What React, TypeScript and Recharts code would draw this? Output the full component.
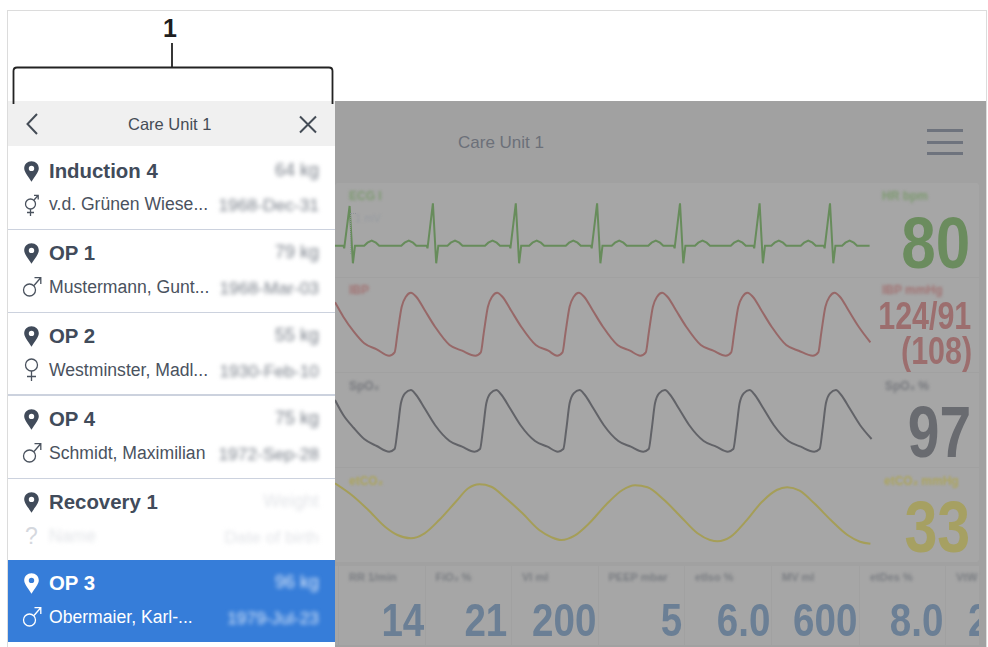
import { LineChart, Line, XAxis, YAxis } from 'recharts';

// waveform samples (time = sweep position, value = relative amplitude)
const ecgTime = [
  0, 8.4, 9.2, 14.6, 17.9, 20, 29.2, 32.5, 36.7, 40.9, 44.2,
  66.3, 69.6, 73.8, 78, 81.3, 91.7, 92.5, 97.9, 101.2, 103.3, 112.5, 115.8, 120, 124.2, 127.5,
  150, 153.3, 157.5, 161.7, 165, 174.6, 175.4, 180.8, 184.1, 186.2, 194.2, 197.5, 201.7, 205.9, 209.2,
  230.8, 234.1, 238.3, 242.5, 245.8, 255.9, 256.7, 262.1, 265.4, 267.5, 276.7, 280, 284.2, 288.4, 291.7,
  313.3, 316.6, 320.8, 325, 328.3, 338.8, 339.6, 345, 348.3, 350.4, 360, 363.3, 367.5, 371.7, 375,
  395.8, 399.1, 403.3, 407.5, 410.8, 418.4, 419.2, 424.6, 427.9, 430, 436.3, 439.6, 443.8, 448, 451.3,
  465.8, 469.1, 473.3, 477.5, 480.8, 488.8, 489.6, 495, 498.3, 500.4, 507.1, 510.4, 514.6, 518.8, 522.1, 534.6,
];
const ecgValues = [
  29.3, 29.3, 26.7, 69, 11.7, 29.3, 29.3, 32.3, 34.3, 32.3, 29.3,
  29.3, 32.3, 34.3, 32.3, 29.3, 29.3, 26.7, 71.7, 11.7, 29.3, 29.3, 32.3, 34.3, 32.3, 29.3,
  29.3, 32.3, 34.3, 32.3, 29.3, 29.3, 26.7, 71.7, 11.7, 29.3, 29.3, 32.3, 34.3, 32.3, 29.3,
  29.3, 32.3, 34.3, 32.3, 29.3, 29.3, 26.7, 71.7, 11.7, 29.3, 29.3, 32.3, 34.3, 32.3, 29.3,
  29.3, 32.3, 34.3, 32.3, 29.3, 29.3, 26.7, 71.7, 11.7, 29.3, 29.3, 32.3, 34.3, 32.3, 29.3,
  29.3, 32.3, 34.3, 32.3, 29.3, 29.3, 26.7, 71.7, 11.7, 29.3, 29.3, 32.3, 34.3, 32.3, 29.3,
  29.3, 32.3, 34.3, 32.3, 29.3, 29.3, 26.7, 71.7, 11.7, 29.3, 29.3, 32.3, 34.3, 32.3, 29.3, 29.3,
];

const ibpTime = [
  0, 8.3, 18.8, 29.2, 41.7, 54.2,
  59.6, 62.5, 66.7, 70.9, 75.9, 81.2, 89.6, 100, 114.6, 127.1, 140.4,
  145.8, 148.7, 152.9, 157.1, 162.1, 167.4, 175.8, 186.2, 200.8, 213.3, 222.1,
  227.5, 230.4, 234.6, 238.8, 243.8, 249.1, 257.5, 267.9, 282.5, 295, 305.4,
  310.8, 313.7, 317.9, 322.1, 327.1, 332.4, 340.8, 351.2, 365.8, 378.3, 390.8,
  396.2, 399.1, 403.3, 407.5, 412.5, 417.8, 426.2, 436.6, 451.2, 463.7, 477.9,
  483.3, 486.2, 490.4, 494.6, 499.6, 504.9, 513.3, 523.7, 535.4,
];
const ibpValues = [
  67.7, 53.3, 38.3, 26.7, 20.7, 14.3,
  17.7, 36.7, 63.3, 73.3, 77.3, 73.3, 60, 43.3, 25, 19.3, 14.3,
  17.7, 36.7, 63.3, 73.3, 77.3, 73.3, 60, 43.3, 25, 19.3, 14.3,
  17.7, 36.7, 63.3, 73.3, 77.3, 73.3, 60, 43.3, 25, 19.3, 14.3,
  17.7, 36.7, 63.3, 73.3, 77.3, 73.3, 60, 43.3, 25, 19.3, 14.3,
  17.7, 36.7, 63.3, 73.3, 77.3, 73.3, 60, 43.3, 25, 19.3, 14.3,
  17.7, 36.7, 63.3, 73.3, 77.3, 73.3, 60, 43.3, 27.7,
];

const spo2Time = [
  0, 8.3, 18.8, 29.2, 41.7, 54.2,
  59.6, 62.5, 65.9, 70, 75.9, 81.2, 89.6, 100, 114.6, 127.1, 139.6,
  145, 147.9, 151.3, 155.4, 161.3, 166.6, 175, 185.4, 200, 212.5, 222.9,
  228.3, 231.2, 234.6, 238.7, 244.6, 249.9, 258.3, 268.7, 283.3, 295.8, 308.3,
  313.7, 316.6, 320, 324.1, 330, 335.3, 343.7, 354.1, 368.7, 381.2, 392.9,
  398.3, 401.2, 404.6, 408.7, 414.6, 419.9, 428.3, 438.7, 453.3, 465.8, 479.2,
  484.6, 487.5, 490.9, 495, 500.9, 506.2, 514.6, 525, 536.6,
];
const spo2Values = [
  70, 55, 42, 31, 24, 18.3,
  21, 40, 66.7, 76.7, 80, 75, 61.7, 45, 29, 23.3, 18.3,
  21, 40, 66.7, 76.7, 80, 75, 61.7, 45, 29, 23.3, 18.3,
  21, 40, 66.7, 76.7, 80, 75, 61.7, 45, 29, 23.3, 18.3,
  21, 40, 66.7, 76.7, 80, 75, 61.7, 45, 29, 23.3, 18.3,
  21, 40, 66.7, 76.7, 80, 75, 61.7, 45, 29, 23.3, 18.3,
  21, 40, 66.7, 76.7, 80, 75, 61.7, 45, 31,
];

const co2Time = [
  0, 16.7, 33.3, 50, 62.5, 75.8, 89.6, 104.2, 120.8, 133.3, 144.6, 156.3, 170.8, 187.5, 204.2, 216.7, 226.3,
  239.6, 254.2, 270.8, 287.5, 300, 312.5, 329.2, 345.8, 362.5, 375, 382.5, 395.8, 410.4, 427.1, 441.7, 452.1,
  464.6, 479.2, 495.8, 512.5, 525, 535.4,
];
const co2Values = [
  66.7, 55, 40, 23.3, 15, 11.7, 16.7, 30, 48.3, 61.7, 65.7, 63.3, 51.7, 36.7, 20, 12.7, 10,
  14.3, 26.7, 45, 60, 64.7, 62.7, 50, 33.3, 16.7, 10, 8.7, 13.3, 28.3, 48.3, 60, 62.7,
  59.3, 46.7, 30, 15, 8.3, 6.3,
];

// patient list
const locations = ['Induction 4', 'OP 1', 'OP 2', 'OP 4', 'Recovery 1', 'OP 3'];
const names = ['v.d. Grünen Wiese...', 'Mustermann, Gunt...', 'Westminster, Madl...', 'Schmidt, Maximilian', 'Name', 'Obermaier, Karl-...'];
const weights = ['64 kg', '79 kg', '55 kg', '75 kg', 'Weight', '96 kg'];
const births = ['1968-Dec-31', '1968-Mar-03', '1930-Feb-10', '1972-Sep-28', 'Date of birth', '1979-Jul-23'];
const genders = ['x', 'm', 'f', 'm', '?', 'm'];
const rowTitleY = [171, 253, 336, 419, 502, 583];
const rowSubY = [205, 288, 371, 454, 537, 618];

// bottom parameter tiles
const tileLabels = ['RR 1/min', 'FiO₂ %', 'VI ml', 'PEEP mbar', 'etIso %', 'MV ml', 'etDes %', 'VtW'];
const tileValues = ['14', '21', '200', '5', '6.0', '600', '8.0', '2'];
const tileLeft = [338, 424.6, 511, 597.5, 684, 771, 859, 945];
const tileValueRight = [424, 507, 596, 682, 770, 857, 943];

const SANS = '"Liberation Sans", Arial, sans-serif';

function T({ x, y, right, size, color, bold, blur, squeeze, children }: any) {
  const style: any = {
    position: 'absolute',
    top: y - size * 0.6,
    height: size * 1.2,
    lineHeight: size * 1.2 + 'px',
    fontSize: size,
    color,
    fontFamily: SANS,
    fontWeight: bold ? 700 : 400,
    whiteSpace: 'nowrap',
  };
  if (right !== undefined) style.right = 988 - right;
  else style.left = x;
  if (blur) style.filter = `blur(${blur}px)`;
  if (squeeze) {
    // no narrow face is installed, so the numerics get squeezed
    style.transform = `scaleX(${squeeze})`;
    style.transformOrigin = 'right center';
  }
  return <div style={style}>{children}</div>;
}

function Wave({ top, height, time, values, color, curve, sw }: any) {
  const rows = time.map((t: number, i: number) => ({ t, v: values[i] }));
  return (
    <div style={{ position: 'absolute', left: 335, top }}>
      <LineChart width={540} height={height} data={rows} margin={{ top: 0, right: 0, bottom: 0, left: 0 }}>
        <XAxis dataKey="t" type="number" domain={[0, 540]} hide />
        <YAxis type="number" domain={[0, height]} hide />
        <Line dataKey="v" type={curve} stroke={color} strokeWidth={sw} dot={false} isAnimationActive={false} />
      </LineChart>
    </div>
  );
}

function Pin({ y, color }: any) {
  return (
    <svg style={{ position: 'absolute', left: 24, top: y - 10 }} width="15" height="21" viewBox="0 0 15 21">
      <path fillRule="evenodd" fill={color} d="M7.5 0.2C3.4 0.2 0.2 3.3 0.2 7.3C0.2 11.6 5.2 16.6 7.5 20.8C9.8 16.6 14.8 11.6 14.8 7.3C14.8 3.3 11.6 0.2 7.5 0.2ZM7.5 4.7A2.7 2.7 0 1 1 7.5 10.1A2.7 2.7 0 1 1 7.5 4.7Z" />
    </svg>
  );
}

function Gender({ kind, y, color }: any) {
  const common = { fill: 'none', stroke: color, strokeWidth: 1.3 };
  return (
    <svg style={{ position: 'absolute', left: 20, top: y - 14 }} width="24" height="26" viewBox="0 0 24 26">
      {kind === 'm' && (
        <g {...common}>
          <circle cx="9.5" cy="16" r="6" />
          <path d="M14 11.5L20.5 4M14.5 3.7H20.8V10" />
        </g>
      )}
      {kind === 'f' && (
        <g {...common}>
          <circle cx="11.5" cy="8" r="6" />
          <path d="M11.5 14V24M7 19.5H16" />
        </g>
      )}
      {kind === 'x' && (
        <g {...common}>
          <circle cx="10.5" cy="13" r="5" />
          <path d="M10.5 18V25M7 21.5H14M14 9L18 4.5M14 4.3H18.2V8.5" />
        </g>
      )}
    </svg>
  );
}

export default function App() {
  return (
    <div style={{ position: 'absolute', left: 0, top: 0, width: 988, height: 647, overflow: 'hidden', background: '#fff' }}>
      {/* outer frame */}
      <div style={{ position: 'absolute', left: 7, top: 10, width: 978, height: 640, border: '1px solid #dcdcdc' }} />

      {/* dimmed monitor behind the list */}
      <div style={{ position: 'absolute', left: 335, top: 101, width: 651, height: 546, background: '#a1a1a1' }} />
      <div style={{ position: 'absolute', left: 335, top: 183, width: 644, height: 379, background: '#a6a6a6', borderRadius: 3 }} />
      {[277, 372, 467].map((y) => (
        <div key={y} style={{ position: 'absolute', left: 335, top: y, width: 644, height: 1, background: '#a1a1a1' }} />
      ))}
      <div style={{ position: 'absolute', left: 335, top: 566, width: 644, height: 79, background: '#a6a6a6' }} />
      {tileLeft.map((x) => (
        <div key={x} style={{ position: 'absolute', left: x, top: 566, width: 1, height: 79, background: '#a1a1a1' }} />
      ))}
      <T x={458} y={143} size={17} color="#6c7079">Care Unit 1</T>
      {[129, 141, 152].map((y) => (
        <div key={y} style={{ position: 'absolute', left: 927, top: y, width: 36, height: 3, background: '#6e737d' }} />
      ))}

      <Wave top={195} height={80} time={ecgTime} values={ecgValues} color="#678c5b" curve="linear" sw={2} />
      <Wave top={280} height={90} time={ibpTime} values={ibpValues} color="#976868" curve="monotone" sw={2} />
      <Wave top={370} height={100} time={spo2Time} values={spo2Values} color="#626368" curve="monotone" sw={2} />
      <Wave top={470} height={80} time={co2Time} values={co2Values} color="#a59e58" curve="monotone" sw={2} />

      {/* wave labels */}
      <T x={349} y={196} size={12} color="#7d9a70" bold blur={1.7}>ECG I</T>
      <T x={355} y={219} size={11} color="#989ca2" blur={1.3}>1 mV</T>
      <div style={{ position: 'absolute', left: 350, top: 213, width: 5, height: 40, borderLeft: '1px dotted #8f9499', borderTop: '1px dotted #8f9499' }} />
      <T x={349} y={290} size={12} color="#a27272" bold blur={1.7}>IBP</T>
      <T x={349} y={386} size={12} color="#77797e" bold blur={1.7}>SpO₂</T>
      <T x={349} y={481} size={12} color="#aca55f" bold blur={1.3}>etCO₂</T>

      <T x={882} y={196} size={12} color="#7d9a70" bold blur={1.7}>HR bpm</T>
      <T x={882} y={290} size={12} color="#a27272" bold blur={1.7}>IBP mmHg</T>
      <T x={885} y={386} size={12} color="#77797e" bold blur={1.7}>SpO₂ %</T>
      <T x={884} y={481} size={12} color="#aca55f" bold blur={1.3}>etCO₂ mmHg</T>

      {/* big numerics */}
      <T right={970} y={243} size={73} color="#6b8c5e" bold squeeze={0.85}>80</T>
      <T right={971} y={316} size={39} color="#9c6e6e" bold squeeze={0.78}>124/91</T>
      <T right={972} y={351} size={39} color="#9c6e6e" bold squeeze={0.78}>(108)</T>
      <T right={971} y={432} size={73} color="#696b70" bold squeeze={0.78}>97</T>
      <T right={970} y={527} size={73} color="#a6a062" bold squeeze={0.81}>33</T>

      {/* parameter tiles */}
      {tileLabels.map((label, i) => (
        <T key={label} x={tileLeft[i] + 11} y={578} size={11} color="#7a7d82" bold blur={1.6}>{label}</T>
      ))}
      {tileValueRight.map((r, i) => (
        <T key={r} right={r} y={620} size={47} color="#6b7f95" bold squeeze={0.82}>{tileValues[i]}</T>
      ))}
      <div style={{ position: 'absolute', left: 960, top: 590, width: 19, height: 56, overflow: 'hidden' }}>
        <div style={{ position: 'absolute', left: 8, top: 2, fontSize: 47, lineHeight: '56px', height: 56, fontFamily: SANS, fontWeight: 700, color: '#6b7f95', transform: 'scaleX(0.8)', transformOrigin: 'left center' }}>{tileValues[7]}</div>
      </div>

      {/* list panel */}
      <div style={{ position: 'absolute', left: 8, top: 101, width: 327, height: 542, background: '#fff' }} />
      <div style={{ position: 'absolute', left: 8, top: 101, width: 327, height: 45, background: '#f0f0f0' }} />
      <div style={{ position: 'absolute', left: 8, top: 560, width: 327, height: 82, background: '#367dd9' }} />
      {[228.5, 311.5, 394, 477.5].map((y) => (
        <div key={y} style={{ position: 'absolute', left: 8, top: y, width: 327, height: 1.5, background: '#ccd2de' }} />
      ))}
      <T x={128} y={125} size={16.5} color="#454c56">Care Unit 1</T>
      <svg style={{ position: 'absolute', left: 0, top: 100 }} width="335" height="46">
        <path d="M37 14L27.5 24L37 34" fill="none" stroke="#444c56" strokeWidth="2" />
        <path d="M300 16.5L316 32.5M316 16.5L300 32.5" fill="none" stroke="#444c56" strokeWidth="2" />
      </svg>
      {locations.map((loc, i) => {
        const active = i === 5;
        const empty = i === 4;
        const main = active ? '#fff' : '#414b5a';
        const soft = active ? '#d7e5f8' : empty ? '#e2e4e8' : '#7a808a';
        return (
          <div key={loc}>
            <Pin y={rowTitleY[i]} color={main} />
            <T x={49} y={rowTitleY[i]} size={20.4} color={main} bold>{loc}</T>
            <T right={319} y={rowTitleY[i]} size={18} color={soft} blur={2}>{weights[i]}</T>
            {empty ? (
              <T x={25} y={rowSubY[i]} size={23} color="#d5d8de">?</T>
            ) : (
              <Gender kind={genders[i]} y={rowSubY[i]} color={active ? '#fff' : '#4a525e'} />
            )}
            <T x={49} y={rowSubY[i]} size={17.6} color={active ? '#fff' : empty ? '#e2e4e8' : '#4a525e'} blur={empty ? 2 : 0}>{names[i]}</T>
            <T right={319} y={rowSubY[i]} size={17.4} color={soft} blur={2}>{births[i]}</T>
          </div>
        );
      })}

      {/* callout */}
      <T x={163} y={28} size={25} color="#1e1e1e" bold>1</T>
      <svg style={{ position: 'absolute', left: 0, top: 0 }} width="345" height="110">
        <path d="M13.5 104V71Q13.5 67.5 17 67.5H329Q332.5 67.5 332.5 71V104M172 43V67.5" fill="none" stroke="#222" strokeWidth="1.8" />
      </svg>
    </div>
  );
}
